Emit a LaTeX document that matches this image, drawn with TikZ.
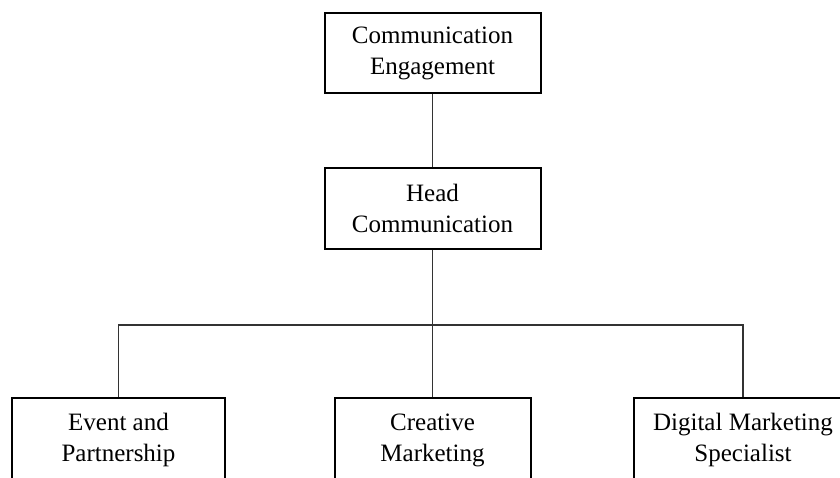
\documentclass[tikz,border=0pt]{standalone}
\usepackage{fontspec}
\setmainfont{Liberation Serif}
\tikzset{
  orgbox/.style={draw=black, line width=2pt, fill=white, align=center, inner sep=0pt,
    font=\fontsize{25}{31}\selectfont, minimum height=80pt},
  link/.style={draw=black!80, line width=1.3pt}
}
\begin{document}
\begin{tikzpicture}[x=1pt,y=-1pt]
\useasboundingbox (0,0) rectangle (840,477);
\clip (0,0) rectangle (840,477);
\node[orgbox, minimum width=216pt] (ce) at (432.5,53) {Communication\\Engagement};
\node[orgbox, minimum width=216pt, minimum height=81pt] (hc) at (432.5,208.5) {Head\\Communication};
\node[orgbox, minimum width=213pt, minimum height=84pt] (ep) at (118.5,440) {Event and\\Partnership};
\node[orgbox, minimum width=196pt, minimum height=84pt] (cm) at (432.5,440) {Creative\\Marketing};
\node[orgbox, minimum width=218pt, minimum height=84pt] (dm) at (743,440) {Digital Marketing\\Specialist};
\coordinate (bus) at (432.5,325);
\draw[link] (ce.south) -- (hc.north);
\draw[link] (hc.south) -- (bus);
\draw[link] (ep.north) |- (bus) -| (dm.north);
\draw[link] (bus) -- (cm.north);
\end{tikzpicture}
\end{document}
